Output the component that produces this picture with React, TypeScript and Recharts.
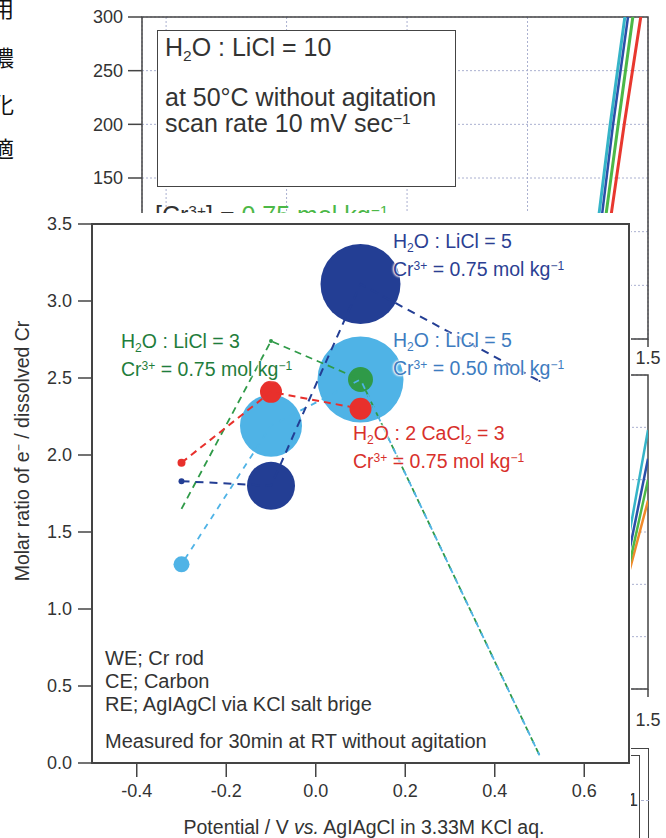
import React from "react";
import {
  CartesianGrid,
  Line,
  LineChart,
  ReferenceArea,
  Scatter,
  ScatterChart,
  XAxis,
  YAxis,
  ZAxis,
} from "recharts";

// main chart: e- / Cr ratio vs potential
const potentials = [-0.3, -0.1, 0.1, 0.5];
const ratioLiCl5High = [1.83, 1.8, 3.11, 2.48];
const sizeLiCl5High = [0.09, 5.76, 16, 0.01];
const ratioLiCl5Low = [1.29, 2.19, 2.49, 0.05];
const sizeLiCl5Low = [0.64, 9.61, 18.5, 0];
const ratioLiCl3 = [1.65, 2.74, 2.49, 0.05];
const sizeLiCl3 = [0, 0.04, 1.56, 0];
const ratioCaCl2 = [1.95, 2.41, 2.3];
const sizeCaCl2 = [0.16, 1.21, 1.21];

const xTicks = [-0.4, -0.2, 0, 0.2, 0.4, 0.6];
const yTicks = [0, 0.5, 1, 1.5, 2, 2.5, 3, 3.5];

// background voltammogram (partly hidden)
const cvPotentialTicks = [-0.5, 0, 0.5, 1.0, 1.5];
const cvCurrentTicks = [0, 50, 100, 150, 200, 250, 300];
const cvCurrent = [60, 108, 198, 300, 320];
const cvCyan = [1.264, 1.292, 1.342, 1.404, 1.416];
const cvBlue = [1.277, 1.305, 1.354, 1.417, 1.429];
const cvGreen = [1.293, 1.321, 1.375, 1.437, 1.449];
const cvRed = [1.314, 1.342, 1.4, 1.47, 1.484];

// second background panel on the right edge
const lowPotential = [1.38, 1.433, 1.5];
const lowCyan = [1.9, 2.75, 4.95];
const lowBlue = [1.7, 2.45, 4.4];
const lowGreen = [1.5, 2.2, 4.0];
const lowRed = [1.4, 2.1, 3.6];
const lowTicks = [0, 1, 2, 3, 4, 5, 6];

const FONT = '"Liberation Sans", Arial, Helvetica, sans-serif';
const DARK = "#233e94";
const LIGHT = "#4fb3e6";
const GREEN = "#2f9a48";
const RED = "#e8302c";
const AXIS = "#444";

const pts = (ys: number[], zs?: number[]) =>
  ys.map((y, i) => ({ x: potentials[i], y, z: zs ? zs[i] : 0 }));
const bubbles = (ys: number[], zs: number[]) => pts(ys, zs).filter((p) => p.z > 0);
const cvLine = (xs: number[]) => xs.map((x, i) => ({ x, y: cvCurrent[i] }));
const lowLine = (ys: number[]) => ys.map((y, i) => ({ x: lowPotential[i], y }));

const tickStyle = { fill: "#333", fontSize: 18, fontFamily: FONT };
const noShape = () => <g />;

const Sub = ({ children }: { children: React.ReactNode }) => (
  <span style={{ fontSize: "0.62em", position: "relative", top: "0.35em" }}>{children}</span>
);
const Sup = ({ children }: { children: React.ReactNode }) => (
  <span style={{ fontSize: "0.62em", position: "relative", top: "-0.5em" }}>{children}</span>
);

const halo = "0 0 2px #fff, 0 0 2px #fff, 0 0 3px #fff, 0 0 3px #fff";

function Label2({
  left,
  top,
  color,
  first,
  second,
}: {
  left: number;
  top: number;
  color: string;
  first: React.ReactNode;
  second: React.ReactNode;
}) {
  return (
    <div
      style={{
        position: "absolute",
        left,
        top,
        color,
        fontFamily: FONT,
        fontSize: 19.5,
        lineHeight: "25px",
        whiteSpace: "nowrap",
        textShadow: halo,
      }}
    >
      <div>{first}</div>
      <div>{second}</div>
    </div>
  );
}

function Background() {
  return (
    <>
      <div style={{ position: "absolute", left: 0, top: 0 }}>
        <LineChart width={666} height={380} margin={{ top: 17, right: 18, left: 0, bottom: 0 }}>
          <CartesianGrid stroke="#aab0d0" strokeDasharray="2 2" />
          <XAxis
            type="number"
            dataKey="x"
            domain={[-0.6, 1.5]}
            ticks={cvPotentialTicks}
            allowDataOverflow
            tickFormatter={(v: number) => v.toFixed(1)}
            tick={tickStyle}
            tickSize={8}
            tickMargin={4}
            axisLine={false}
            tickLine={{ stroke: AXIS, strokeWidth: 1.5 }}
            height={41}
          />
          <YAxis
            type="number"
            domain={[0, 300]}
            ticks={cvCurrentTicks}
            allowDataOverflow
            tick={tickStyle}
            tickSize={14}
            tickMargin={5}
            axisLine={false}
            tickLine={{ stroke: AXIS, strokeWidth: 1.5 }}
            width={142}
          />
          <ReferenceArea x1={-0.6} x2={1.5} y1={0} y2={300} fill="none" stroke={AXIS} strokeWidth={1.5} />
          <Line data={cvLine(cvCyan)} dataKey="y" type="linear" stroke="#35b4c8" strokeWidth={3} dot={false} isAnimationActive={false} />
          <Line data={cvLine(cvBlue)} dataKey="y" type="linear" stroke="#2a4fa8" strokeWidth={2.5} dot={false} isAnimationActive={false} />
          <Line data={cvLine(cvGreen)} dataKey="y" type="linear" stroke="#4cb847" strokeWidth={3} dot={false} isAnimationActive={false} />
          <Line data={cvLine(cvRed)} dataKey="y" type="linear" stroke="#e8382f" strokeWidth={3} dot={false} isAnimationActive={false} />
        </LineChart>
      </div>

      <div style={{ position: "absolute", left: 0, top: 360 }}>
        <LineChart width={666} height={400} margin={{ top: 15, right: 18, left: 0, bottom: 0 }}>
          <CartesianGrid stroke="#aab0d0" strokeDasharray="2 2" vertical={false} />
          <XAxis
            type="number"
            dataKey="x"
            domain={[-0.6, 1.5]}
            ticks={cvPotentialTicks}
            allowDataOverflow
            tickFormatter={(v: number) => v.toFixed(1)}
            tick={tickStyle}
            tickSize={8}
            tickMargin={16}
            axisLine={false}
            tickLine={{ stroke: AXIS, strokeWidth: 1.5 }}
            height={71}
          />
          <YAxis type="number" domain={[0, 6]} ticks={lowTicks} allowDataOverflow hide width={142} />
          <ReferenceArea x1={-0.6} x2={1.5} y1={0} y2={6} fill="none" stroke={AXIS} strokeWidth={1.5} />
          <Line data={lowLine(lowRed)} dataKey="y" type="linear" stroke="#f08a2a" strokeWidth={2.5} dot={false} isAnimationActive={false} />
          <Line data={lowLine(lowGreen)} dataKey="y" type="linear" stroke="#4cb847" strokeWidth={2.5} dot={false} isAnimationActive={false} />
          <Line data={lowLine(lowBlue)} dataKey="y" type="linear" stroke="#2a4fa8" strokeWidth={2.5} dot={false} isAnimationActive={false} />
          <Line data={lowLine(lowCyan)} dataKey="y" type="linear" stroke="#35b4c8" strokeWidth={2.5} dot={false} isAnimationActive={false} />
        </LineChart>
      </div>

      {/* frames of a lower panel peeking out on the right */}
      <div style={{ position: "absolute", left: 560, top: 748, width: 88, height: 120, borderTop: `1.5px solid ${AXIS}`, borderRight: `1.5px solid ${AXIS}` }} />
      <div style={{ position: "absolute", left: 560, top: 755, width: 79, height: 120, borderTop: `1.5px solid ${AXIS}`, borderRight: `1.5px solid ${AXIS}` }} />
      <div style={{ position: "absolute", left: 641, top: 800, width: 8, borderTop: "1px dashed #aab0d0" }} />
      <div style={{ position: "absolute", left: 628, top: 790, fontFamily: FONT, fontSize: 18, color: "#333" }}>1</div>

      {/* info box of the background panel */}
      <div
        style={{
          position: "absolute",
          left: 157,
          top: 30,
          width: 299,
          height: 157,
          border: `1.5px solid ${AXIS}`,
          background: "#fff",
          fontFamily: FONT,
          fontSize: 25,
          color: "#333",
          lineHeight: "26px",
          paddingLeft: 7,
          boxSizing: "border-box",
        }}
      >
        <div style={{ marginTop: 3 }}>
          H<Sub>2</Sub>O : LiCl = 10
        </div>
        <div style={{ marginTop: 20 }}>at 50°C without agitation</div>
        <div>
          scan rate 10 mV sec<Sup>−1</Sup>
        </div>
      </div>
      <div style={{ position: "absolute", left: 155, top: 201, fontFamily: FONT, fontSize: 25, color: "#333", whiteSpace: "nowrap" }}>
        [Cr<Sup>3+</Sup>] = <span style={{ color: "#4cb847" }}>0.75 mol kg<Sup>−1</Sup></span>
      </div>

      {["用", "濃", "化", "適"].map((c, i) => (
        <div
          key={c}
          style={{
            position: "absolute",
            left: -8,
            top: [-9, 40, 87, 131][i],
            fontFamily: '"Noto Sans CJK JP", sans-serif',
            fontSize: 22,
            color: "#111",
          }}
        >
          {c}
        </div>
      ))}
    </>
  );
}

function MainChart() {
  const dash = "7 5";
  return (
    <div style={{ position: "absolute", left: 0, top: 213, width: 631, height: 625, background: "#fff" }}>
      <ScatterChart width={631} height={625} margin={{ top: 11, right: 2, left: 0, bottom: 0 }}>
        <XAxis
          type="number"
          dataKey="x"
          domain={[-0.5, 0.7]}
          ticks={xTicks}
          allowDataOverflow
          tickFormatter={(v: number) => v.toFixed(1)}
          tick={tickStyle}
          tickSize={14}
          tickMargin={7}
          axisLine={false}
          tickLine={{ stroke: AXIS, strokeWidth: 1.5 }}
          height={75}
        />
        <YAxis
          type="number"
          dataKey="y"
          domain={[0, 3.5]}
          ticks={yTicks}
          allowDataOverflow
          tickFormatter={(v: number) => v.toFixed(1)}
          tick={tickStyle}
          tickSize={14}
          tickMargin={6}
          axisLine={false}
          tickLine={{ stroke: AXIS, strokeWidth: 1.5 }}
          width={92}
        />
        <ZAxis type="number" dataKey="z" domain={[0, 20]} range={[0, 6283]} />
        <ReferenceArea x1={-0.5} x2={0.7} y1={0} y2={3.5} fill="none" stroke={AXIS} strokeWidth={2} />

        <Scatter data={bubbles(ratioLiCl5Low, sizeLiCl5Low)} fill={LIGHT} isAnimationActive={false} />
        <Scatter data={bubbles(ratioLiCl5High, sizeLiCl5High)} fill={DARK} isAnimationActive={false} />
        <Scatter data={bubbles(ratioLiCl3, sizeLiCl3)} fill={GREEN} isAnimationActive={false} />
        <Scatter data={bubbles(ratioCaCl2, sizeCaCl2)} fill={RED} isAnimationActive={false} />

        <Scatter data={pts(ratioLiCl3)} fill="none" shape={noShape} line={{ stroke: GREEN, strokeWidth: 1.8, strokeDasharray: dash, fill: "none" }} isAnimationActive={false} />
        <Scatter data={pts(ratioLiCl5Low)} fill="none" shape={noShape} line={{ stroke: LIGHT, strokeWidth: 1.8, strokeDasharray: "6 6", strokeDashoffset: 6, fill: "none" }} isAnimationActive={false} />
        <Scatter data={pts(ratioCaCl2)} fill="none" shape={noShape} line={{ stroke: RED, strokeWidth: 2, strokeDasharray: dash, fill: "none" }} isAnimationActive={false} />
        <Scatter data={pts(ratioLiCl5High)} fill="none" shape={noShape} line={{ stroke: DARK, strokeWidth: 2, strokeDasharray: "8 6", fill: "none" }} isAnimationActive={false} />
      </ScatterChart>

      <div
        style={{
          position: "absolute",
          left: 22,
          top: 238,
          transform: "translate(-50%, -50%) rotate(-90deg)",
          fontFamily: FONT,
          fontSize: 19.5,
          color: "#333",
          whiteSpace: "nowrap",
        }}
      >
        Molar ratio of e<Sup>−</Sup> / dissolved Cr
      </div>
      <div
        style={{
          position: "absolute",
          left: 364,
          top: 614,
          transform: "translate(-50%, -50%)",
          fontFamily: FONT,
          fontSize: 19.5,
          color: "#333",
          whiteSpace: "nowrap",
        }}
      >
        Potential / V <i>vs.</i> AgIAgCl in 3.33M KCl aq.
      </div>
    </div>
  );
}

export default function App() {
  return (
    <div style={{ position: "absolute", left: 0, top: 0, width: 666, height: 838, overflow: "hidden", background: "#fff" }}>
      <Background />
      <MainChart />

      <Label2
        left={393}
        top={229}
        color="#2b3f93"
        first={<>H<Sub>2</Sub>O : LiCl = 5</>}
        second={<>Cr<Sup>3+</Sup> = 0.75 mol kg<Sup>−1</Sup></>}
      />
      <Label2
        left={393}
        top={328}
        color="#3d7cc0"
        first={<>H<Sub>2</Sub>O : LiCl = 5</>}
        second={<>Cr<Sup>3+</Sup> = 0.50 mol kg<Sup>−1</Sup></>}
      />
      <Label2
        left={121}
        top={329}
        color="#1f7d3c"
        first={<>H<Sub>2</Sub>O : LiCl = 3</>}
        second={<>Cr<Sup>3+</Sup> = 0.75 mol kg<Sup>−1</Sup></>}
      />
      <Label2
        left={353}
        top={421}
        color="#d8302b"
        first={<>H<Sub>2</Sub>O : 2 CaCl<Sub>2</Sub> = 3</>}
        second={<>Cr<Sup>3+</Sup> = 0.75 mol kg<Sup>−1</Sup></>}
      />

      <div style={{ position: "absolute", left: 105, top: 647, fontFamily: FONT, fontSize: 20, color: "#333", lineHeight: "23px", whiteSpace: "nowrap" }}>
        <div>WE; Cr rod</div>
        <div>CE; Carbon</div>
        <div>RE; AgIAgCl via KCl salt brige</div>
        <div style={{ marginTop: 14 }}>Measured for 30min at RT without agitation</div>
      </div>
    </div>
  );
}
